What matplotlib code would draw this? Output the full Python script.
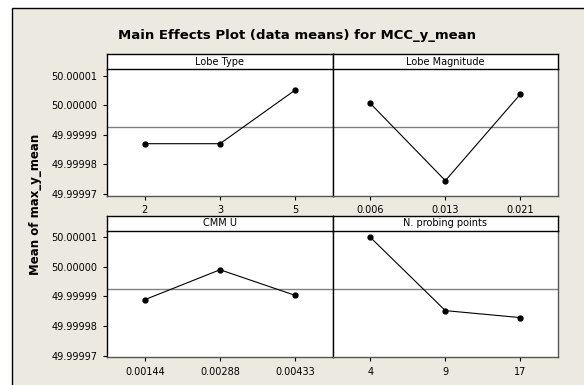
import matplotlib
matplotlib.use("Agg")
import matplotlib.pyplot as plt
from matplotlib.patches import Rectangle
from matplotlib.ticker import FuncFormatter

# factor levels and mean response at each level
lobe_type = ["2", "3", "5"]
lobe_type_mean = [49.99998701, 49.99998701, 50.00000517]

lobe_mag = ["0.006", "0.013", "0.021"]
lobe_mag_mean = [50.00000067, 49.99997450, 50.00000381]

cmm_u = ["0.00144", "0.00288", "0.00433"]
cmm_u_mean = [49.99998889, 49.99999900, 49.99999034]

probing = ["4", "9", "17"]
probing_mean = [50.00000998, 49.99998518, 49.99998282]

grand_mean = 49.9999926
yticks = [49.99997, 49.99998, 49.99999, 50.00000, 50.00001]

panels = [
    ("Lobe Type", lobe_type, lobe_type_mean),
    ("Lobe Magnitude", lobe_mag, lobe_mag_mean),
    ("CMM U", cmm_u, cmm_u_mean),
    ("N. probing points", probing, probing_mean),
]

W, H = 584, 385
bg = "#ECE9E0"

fig = plt.figure(figsize=(W / 100, H / 100), dpi=100)
fig.patch.set_facecolor("white")

# beige frame with black top/left edge
fig.add_artist(Rectangle((11.5 / W, -0.05), 1.2, (H - 8.3) / H + 0.05,
                         transform=fig.transFigure, facecolor=bg,
                         edgecolor="black", linewidth=1.0, zorder=0))


def px_axes(x0, y0, x1, y1):
    # pixel box (top-left origin) -> figure axes
    return fig.add_axes([x0 / W, 1 - y1 / H, (x1 - x0) / W, (y1 - y0) / H])


cols = [(107.3, 332.7), (332.7, 558.0)]
rows = [(54.3, 69.3, 195.7), (216.0, 230.7, 357.3)]

for i, (name, levels, means) in enumerate(panels):
    r, c = divmod(i, 2)
    x0, x1 = cols[c]
    htop, hbot, pbot = rows[r]

    ax = px_axes(x0, hbot, x1, pbot)
    ax.set_facecolor("white")
    xs = range(len(levels))
    ax.axhline(grand_mean, color="#808080", lw=1.0, zorder=1)
    ax.plot(xs, means, color="black", lw=0.8, marker="o", markersize=3.5,
            zorder=2)
    ax.set_xlim(-0.5, len(levels) - 0.5)
    ax.set_ylim(49.9999694, 50.0000122)
    ax.set_xticks(list(xs))
    ax.set_xticklabels(levels)
    ax.set_yticks(yticks)
    ax.yaxis.set_major_formatter(FuncFormatter(lambda v, p: "%.5f" % v))
    ax.tick_params(direction="out", length=3, width=0.8, labelsize=7,
                   pad=4, color="black")
    if c == 1:
        ax.tick_params(axis="y", left=False, labelleft=False)
    ax.spines["top"].set_visible(False)
    ax.spines["left"].set_color("black")
    ax.spines["bottom"].set_color("#555555")
    ax.spines["right"].set_color("#555555")
    for s in ax.spines.values():
        s.set_linewidth(1.0)

    # header strip, drawn above the plot area
    hx = px_axes(x0, htop, x1, hbot)
    hx.set_zorder(3)
    hx.set_xticks([])
    hx.set_yticks([])
    hx.set_facecolor("white")
    for s in hx.spines.values():
        s.set_color("black")
        s.set_linewidth(1.0)
    hx.text(0.5, 0.5, name, ha="center", va="center", fontsize=7,
            transform=hx.transAxes)

fig.text(297.5 / W, 1 - 35 / H, "Main Effects Plot (data means) for MCC_y_mean",
         ha="center", va="center", fontsize=9.5, fontweight="bold")
fig.text(36 / W, 1 - 204 / H, "Mean of max_y_mean", ha="center", va="center",
         rotation=90, fontsize=8.5, fontweight="bold")

fig.savefig("out.png", dpi=100, facecolor=fig.get_facecolor())
